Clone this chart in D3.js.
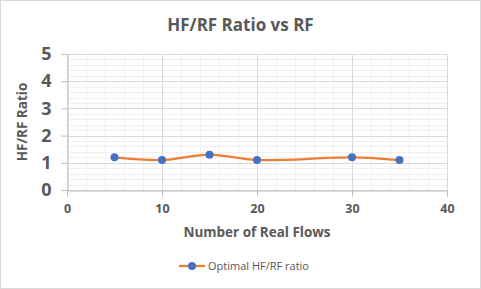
<!DOCTYPE html>
<html lang="en">
  <head>
    <meta charset="UTF-8" />
    <title>HF/RF Ratio vs RF</title>
    <script src="https://d3js.org/d3.v7.min.js"></script>
    <style>
      body { margin: 0; background: #fff; }
      text { font-family: "Open Sans", "Liberation Sans", sans-serif; fill: #595959; }
    </style>
  </head>
  <body>
    <div id="chart"></div>
    <script>
      // data
      const realFlows = [5, 10, 15, 20, 30, 35];
      const ratios = [1.2, 1.1, 1.3, 1.1, 1.2, 1.1];
      const xTicks = [0, 10, 20, 30, 40];
      const yTicks = [0, 1, 2, 3, 4, 5];
      const seriesName = "Optimal HF/RF ratio";

      const W = 481, H = 289;
      const margin = { top: 54, right: 34, bottom: 99, left: 67 };
      const width = W - margin.left - margin.right,
        height = H - margin.top - margin.bottom;

      const svg = d3.select("#chart").append("svg")
        .attr("width", W).attr("height", H);

      // outer border
      svg.append("rect")
        .attr("x", 0.5).attr("y", 0.5)
        .attr("width", W - 1).attr("height", H - 1)
        .attr("fill", "#fff").attr("stroke", "#d9d9d9");

      const g = svg.append("g")
        .attr("transform", `translate(${margin.left},${margin.top})`);

      const x = d3.scaleLinear().domain([0, 40]).range([0, width]);
      const y = d3.scaleLinear().domain([0, 5]).range([height, 0]);

      // minor grid
      g.append("g").selectAll("line")
        .data(d3.range(0, 5.001, 0.2))
        .join("line")
        .attr("x1", 0).attr("x2", width)
        .attr("y1", d => Math.round(y(d)) + 0.5).attr("y2", d => Math.round(y(d)) + 0.5)
        .attr("stroke", "#f0f0f0");
      g.append("g").selectAll("line")
        .data(d3.range(0, 40.001, 2))
        .join("line")
        .attr("y1", 0).attr("y2", height)
        .attr("x1", d => Math.round(x(d)) + 0.5).attr("x2", d => Math.round(x(d)) + 0.5)
        .attr("stroke", "#f0f0f0");

      // major grid
      g.append("g").selectAll("line")
        .data(yTicks)
        .join("line")
        .attr("x1", 0).attr("x2", width)
        .attr("y1", d => Math.round(y(d)) + 0.5).attr("y2", d => Math.round(y(d)) + 0.5)
        .attr("stroke", "#d9d9d9");
      g.append("g").selectAll("line")
        .data(xTicks)
        .join("line")
        .attr("y1", 0).attr("y2", height)
        .attr("x1", d => Math.round(x(d)) + 0.5).attr("x2", d => Math.round(x(d)) + 0.5)
        .attr("stroke", "#d9d9d9");

      // axes
      const yAxis = g.append("g")
        .attr("transform", "translate(0.5,0)")
        .call(d3.axisLeft(y).tickValues(yTicks).tickSize(6).tickPadding(10).tickFormat(d3.format("d")));
      const xAxis = g.append("g")
        .attr("transform", `translate(0,${Math.round(height) + 0.5})`)
        .call(d3.axisBottom(x).tickValues(xTicks).tickSize(6).tickPadding(8).tickFormat(d3.format("d")));
      [yAxis, xAxis].forEach(a => {
        a.select(".domain").attr("stroke", "#bfbfbf");
        a.selectAll(".tick line").attr("stroke", "#bfbfbf");
        a.selectAll(".tick text").style("fill", "#595959");
      });
      yAxis.selectAll(".tick text").style("font-size", "18px").style("font-weight", "bold");
      xAxis.selectAll(".tick text").style("font-size", "12.5px").style("font-weight", "bold");

      // line and markers
      const pts = realFlows.map((d, i) => [d, ratios[i]]);
      g.append("path")
        .datum(pts)
        .attr("fill", "none")
        .attr("stroke", "#ed7d31")
        .attr("stroke-width", 2.25)
        .attr("d", d3.line().x(d => x(d[0])).y(d => y(d[1])).curve(d3.curveCatmullRom.alpha(0.5)));
      g.selectAll(".dot")
        .data(pts)
        .join("circle")
        .attr("class", "dot")
        .attr("cx", d => x(d[0])).attr("cy", d => y(d[1]))
        .attr("r", 4)
        .attr("fill", "#4472c4");

      // title and axis titles
      svg.append("text")
        .attr("x", W / 2).attr("y", 31)
        .attr("text-anchor", "middle")
        .style("font-size", "17px").style("font-weight", "bold")
        .text("HF/RF Ratio vs RF");
      svg.append("text")
        .attr("x", margin.left + width / 2).attr("y", 237)
        .attr("text-anchor", "middle")
        .style("font-size", "13.5px").style("font-weight", "bold")
        .text("Number of Real Flows");
      svg.append("text")
        .attr("transform", `translate(27,${margin.top + height / 2}) rotate(-90)`)
        .attr("text-anchor", "middle")
        .style("font-size", "13.5px").style("font-weight", "bold")
        .text("HF/RF Ratio");

      // legend
      const lg = svg.append("g").attr("transform", "translate(179,266)");
      lg.append("line").attr("x1", 0).attr("x2", 26).attr("stroke", "#ed7d31").attr("stroke-width", 2.25);
      lg.append("circle").attr("cx", 13).attr("r", 4).attr("fill", "#4472c4");
      lg.append("text").attr("x", 29).attr("y", 0).attr("dy", "0.35em")
        .style("font-size", "11px").text(seriesName);
    </script>
  </body>
</html>
